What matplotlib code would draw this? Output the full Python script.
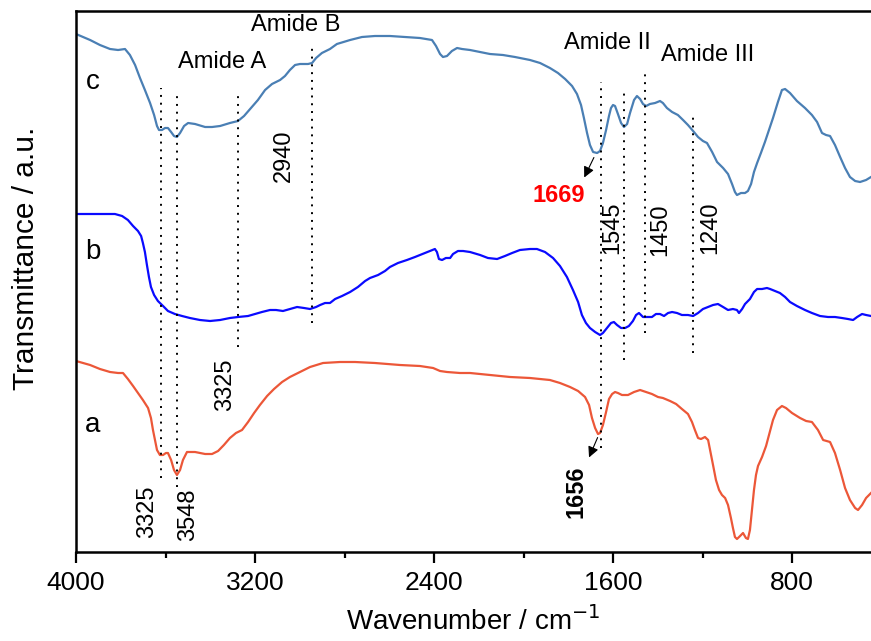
import matplotlib
matplotlib.use('Agg')
import matplotlib.pyplot as plt

plt.rcParams['font.family'] = ['Liberation Sans', 'DejaVu Sans']

# curva c
wn_c = [4000, 3937, 3893, 3848, 3812, 3781, 3759, 3736, 3714, 3692,
        3669, 3651, 3638, 3629, 3616, 3602, 3589, 3575, 3562, 3549,
        3535, 3517, 3499, 3468, 3423, 3392, 3356, 3312, 3276, 3249,
        3222, 3187, 3155, 3124, 3088, 3066, 3044, 3021, 2999, 2963,
        2945, 2927, 2901, 2865, 2834, 2775, 2722, 2664, 2597, 2530,
        2463, 2409, 2391, 2373, 2360, 2342, 2320, 2297, 2275, 2239,
        2194, 2150, 2092, 2038, 1971, 1926, 1882, 1846, 1814, 1783,
        1761, 1743, 1730, 1716, 1703, 1689, 1671, 1658, 1645, 1631,
        1618, 1609, 1600, 1591, 1578, 1564, 1551, 1537, 1524, 1506,
        1493, 1479, 1466, 1452, 1435, 1412, 1390, 1377, 1359, 1336,
        1310, 1287, 1265, 1242, 1220, 1198, 1180, 1157, 1135, 1108,
        1086, 1068, 1055, 1046, 1028, 1010, 997, 983, 970, 956,
        939, 921, 903, 885, 863, 845, 831, 809, 778, 742,
        711, 688, 666, 648, 630, 608, 585, 563, 541, 518,
        496, 469, 447]
t_c = [5.18, 5.12, 5.07, 5.03, 5.02, 5.03, 4.97, 4.87, 4.74, 4.62,
       4.49, 4.37, 4.26, 4.22, 4.22, 4.24, 4.24, 4.20, 4.16, 4.15,
       4.19, 4.26, 4.29, 4.28, 4.25, 4.25, 4.26, 4.29, 4.31, 4.36,
       4.43, 4.52, 4.62, 4.68, 4.72, 4.76, 4.82, 4.87, 4.88, 4.88,
       4.89, 4.94, 4.99, 5.03, 5.08, 5.12, 5.15, 5.16, 5.16, 5.15,
       5.14, 5.12, 5.06, 4.98, 4.95, 4.96, 5.01, 5.04, 5.03, 5.02,
       5.00, 4.98, 4.97, 4.95, 4.92, 4.89, 4.84, 4.79, 4.73, 4.66,
       4.58, 4.47, 4.34, 4.19, 4.07, 4.00, 3.99, 4.01, 4.09, 4.22,
       4.36, 4.44, 4.47, 4.46, 4.38, 4.29, 4.25, 4.28, 4.39, 4.52,
       4.56, 4.53, 4.48, 4.46, 4.48, 4.49, 4.51, 4.49, 4.44, 4.40,
       4.37, 4.32, 4.27, 4.21, 4.15, 4.11, 4.09, 4.00, 3.90, 3.84,
       3.78, 3.68, 3.60, 3.57, 3.59, 3.59, 3.61, 3.68, 3.80, 3.89,
       3.99, 4.10, 4.22, 4.34, 4.50, 4.62, 4.63, 4.59, 4.51, 4.44,
       4.37, 4.30, 4.19, 4.17, 4.16, 4.07, 3.95, 3.84, 3.75, 3.71,
       3.70, 3.72, 3.75]

# curva b
wn_b = [4000, 3893, 3826, 3794, 3768, 3745, 3723, 3709, 3701, 3692,
        3683, 3674, 3665, 3651, 3634, 3611, 3589, 3558, 3526, 3491,
        3446, 3401, 3356, 3312, 3276, 3231, 3200, 3169, 3133, 3106,
        3075, 3044, 3012, 2981, 2954, 2927, 2909, 2887, 2865, 2842,
        2811, 2775, 2740, 2708, 2686, 2650, 2619, 2597, 2561, 2521,
        2485, 2440, 2396, 2387, 2378, 2364, 2347, 2328, 2315, 2293,
        2270, 2239, 2194, 2159, 2118, 2083, 2051, 2016, 1971, 1940,
        1904, 1868, 1837, 1806, 1779, 1756, 1739, 1721, 1703, 1680,
        1658, 1645, 1627, 1609, 1596, 1582, 1564, 1546, 1529, 1511,
        1497, 1484, 1466, 1448, 1426, 1408, 1390, 1372, 1354, 1336,
        1314, 1292, 1265, 1242, 1220, 1198, 1175, 1153, 1131, 1108,
        1086, 1064, 1046, 1037, 1023, 1010, 988, 970, 956, 934,
        912, 898, 876, 854, 831, 809, 778, 742, 711, 675,
        639, 608, 577, 550, 527, 509, 487, 469, 447]
t_b = [3.38, 3.38, 3.38, 3.36, 3.32, 3.26, 3.21, 3.16, 3.09, 3.00,
       2.87, 2.75, 2.65, 2.57, 2.51, 2.46, 2.41, 2.38, 2.36, 2.34,
       2.32, 2.31, 2.32, 2.34, 2.35, 2.36, 2.38, 2.40, 2.42, 2.42,
       2.41, 2.43, 2.45, 2.44, 2.43, 2.45, 2.47, 2.49, 2.49, 2.53,
       2.56, 2.60, 2.65, 2.71, 2.74, 2.77, 2.81, 2.85, 2.89, 2.92,
       2.95, 2.99, 3.03, 3.00, 2.93, 2.92, 2.94, 2.94, 2.98, 3.01,
       3.01, 3.00, 2.97, 2.94, 2.93, 2.96, 2.99, 3.02, 3.03, 3.03,
       3.00, 2.94, 2.86, 2.75, 2.62, 2.50, 2.37, 2.29, 2.24, 2.20,
       2.17, 2.19, 2.24, 2.29, 2.30, 2.27, 2.24, 2.24, 2.26, 2.31,
       2.37, 2.39, 2.35, 2.35, 2.35, 2.38, 2.38, 2.36, 2.39, 2.40,
       2.39, 2.37, 2.37, 2.36, 2.39, 2.43, 2.45, 2.47, 2.48, 2.45,
       2.42, 2.43, 2.42, 2.39, 2.43, 2.48, 2.53, 2.60, 2.63, 2.63,
       2.64, 2.63, 2.61, 2.59, 2.55, 2.50, 2.46, 2.42, 2.39, 2.36,
       2.35, 2.35, 2.34, 2.33, 2.32, 2.35, 2.38, 2.37, 2.36]

# curva a
wn_a = [4000, 3937, 3893, 3848, 3812, 3790, 3768, 3745, 3723, 3701,
        3678, 3665, 3656, 3647, 3638, 3625, 3611, 3598, 3589, 3575,
        3562, 3549, 3535, 3522, 3504, 3468, 3423, 3392, 3365, 3339,
        3312, 3285, 3258, 3231, 3204, 3178, 3146, 3115, 3079, 3044,
        2999, 2954, 2896, 2820, 2753, 2664, 2552, 2463, 2404, 2373,
        2342, 2284, 2239, 2150, 2060, 1971, 1882, 1837, 1792, 1756,
        1725, 1707, 1694, 1680, 1667, 1658, 1645, 1631, 1618, 1604,
        1591, 1578, 1560, 1533, 1506, 1479, 1452, 1426, 1399, 1377,
        1345, 1318, 1292, 1265, 1247, 1234, 1220, 1207, 1189, 1175,
        1166, 1153, 1140, 1126, 1113, 1099, 1086, 1073, 1064, 1055,
        1046, 1032, 1019, 1006, 997, 988, 979, 970, 961, 952,
        934, 916, 898, 885, 867, 845, 827, 800, 764, 737,
        711, 684, 661, 630, 608, 585, 563, 541, 518, 505,
        487, 469, 447]
t_a = [1.91, 1.87, 1.83, 1.80, 1.79, 1.79, 1.73, 1.66, 1.59, 1.52,
       1.44, 1.34, 1.22, 1.12, 1.02, 0.97, 0.97, 0.99, 0.99, 0.92,
       0.82, 0.77, 0.82, 0.92, 1.00, 1.00, 0.98, 0.98, 1.01, 1.07,
       1.14, 1.19, 1.22, 1.30, 1.39, 1.47, 1.56, 1.63, 1.70, 1.75,
       1.80, 1.85, 1.89, 1.90, 1.90, 1.89, 1.87, 1.86, 1.84, 1.81,
       1.80, 1.79, 1.79, 1.77, 1.75, 1.74, 1.72, 1.69, 1.65, 1.61,
       1.55, 1.47, 1.34, 1.24, 1.18, 1.19, 1.27, 1.40, 1.53, 1.58,
       1.60, 1.59, 1.57, 1.57, 1.60, 1.62, 1.60, 1.58, 1.55, 1.54,
       1.51, 1.48, 1.43, 1.38, 1.30, 1.22, 1.14, 1.13, 1.15, 1.12,
       1.02, 0.87, 0.72, 0.62, 0.57, 0.54, 0.47, 0.34, 0.24, 0.15,
       0.13, 0.16, 0.19, 0.14, 0.13, 0.22, 0.42, 0.62, 0.77, 0.86,
       0.95, 1.06, 1.21, 1.32, 1.42, 1.46, 1.44, 1.39, 1.34, 1.31,
       1.30, 1.22, 1.12, 1.10, 0.99, 0.82, 0.64, 0.52, 0.44, 0.42,
       0.47, 0.54, 0.59]

# lineas punteadas: posicion, inicio, fin
marcas_wn = [3620, 3549, 3276, 2945, 1654, 1551, 1457, 1243]
marcas_y0 = [0.74, 0.65, 2.05, 2.29, 1.04, 1.92, 2.19, 1.99]
marcas_y1 = [4.64, 4.57, 4.57, 5.07, 4.70, 4.60, 4.79, 4.37]

fig = plt.figure(figsize=(8.71, 6.41), dpi=100)
ax = fig.add_axes([76 / 871, 89 / 641, 795 / 871, 541 / 641])

ax.plot(wn_c, t_c, color='#4a7fb4', lw=1.6)
ax.plot(wn_b, t_b, color='#0a0aff', lw=1.6)
ax.plot(wn_a, t_a, color='#ec5738', lw=1.6)

for w, y0, y1 in zip(marcas_wn, marcas_y0, marcas_y1):
    ax.plot([w, w], [y0, y1], color='k', lw=1.4, linestyle=(0, (1, 3)))

ax.set_xlim(4000, 447)
ax.set_ylim(0, 5.41)
ax.set_xticks([4000, 3200, 2400, 1600, 800])
ax.set_xticks([3600, 2800, 2000, 1200], minor=True)
ax.set_yticks([])
ax.tick_params(axis='x', which='major', direction='out', length=8, width=1.6,
               labelsize=19, pad=6)
ax.tick_params(axis='x', which='minor', direction='out', length=4, width=1.6)
for s in ['left', 'bottom', 'top']:
    ax.spines[s].set_linewidth(1.8)
ax.spines['right'].set_visible(False)

ax.set_xlabel('Wavenumber / cm$^{-1}$', fontsize=20, labelpad=8)
ax.set_ylabel('Transmittance / a.u.', fontsize=21.5)
ax.yaxis.set_label_coords(-0.045, 0.543)

# etiquetas de las curvas
for txt, y in [('c', 4.70), ('b', 3.00), ('a', 1.27)]:
    ax.text(3924, y, txt, fontsize=20, ha='center', va='center')

ax.text(3347, 4.90, 'Amide A', fontsize=17, ha='center', va='center')
ax.text(3017, 5.27, 'Amide B', fontsize=17, ha='center', va='center')
ax.text(1627, 5.09, 'Amide II', fontsize=17, ha='center', va='center')
ax.text(1175, 4.97, 'Amide III', fontsize=17, ha='center', va='center')

rot = [('2940', 3070, 3.96), ('1545', 1604, 3.24), ('1450', 1390, 3.22),
       ('1240', 1166, 3.24), ('3325', 3334, 1.67), ('3325', 3683, 0.40),
       ('3548', 3499, 0.37)]
for txt, x, y in rot:
    ax.text(x, y, txt, fontsize=17, rotation=90, ha='center', va='center')

ax.text(1841, 3.57, '1669', fontsize=17, fontweight='bold', color='red',
        ha='center', va='center')
ax.text(1765, 0.60, '1656', fontsize=17, fontweight='bold', rotation=90,
        ha='center', va='center')

ax.annotate('', xy=(1734, 3.72), xytext=(1680, 3.97),
            arrowprops=dict(arrowstyle='-|>', color='k', lw=0.8, mutation_scale=16))
ax.annotate('', xy=(1712, 0.92), xytext=(1664, 1.17),
            arrowprops=dict(arrowstyle='-|>', color='k', lw=0.8, mutation_scale=16))

fig.savefig('out.png', dpi=100)
